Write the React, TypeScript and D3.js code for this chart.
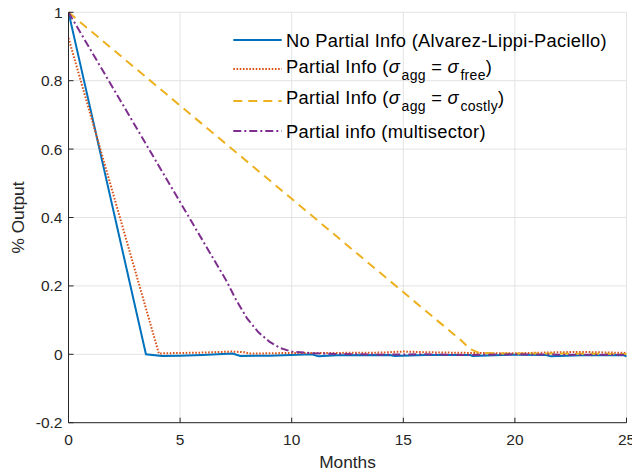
import React from "react";
import * as d3 from "d3";

const xTicks = [0, 5, 10, 15, 20, 25];
const yTicks = [-0.2, 0, 0.2, 0.4, 0.6, 0.8, 1];

const blueX = [0, 3.47, 4.2, 5, 6, 7.35, 7.7, 9, 10.9, 11.2, 12, 14.4, 14.6, 16, 18, 18.1, 20, 21.4, 21.6, 23, 24.85, 25];
const blueY = [1, 0, -0.005, -0.004, -0.002, 0.002, -0.005, -0.004, 0, -0.006, -0.003, -0.002, -0.005, -0.002, -0.002, -0.005, -0.001, -0.002, -0.006, -0.003, -0.002, -0.006];

const orangeX = [0, 4.05, 4.3, 6, 7.3, 7.9, 8.1, 10, 12, 14, 15, 16, 18, 20, 22, 23, 25];
const orangeY = [0.925, 0.002, 0.003, 0.005, 0.008, 0.006, 0.002, 0.004, 0.004, 0.005, 0.008, 0.006, 0.004, 0.003, 0.006, 0.007, 0.004];

const yellowX = [0, 17.6, 18.0, 18.4, 19, 20, 22, 25];
const yellowY = [1, 0.04, 0.015, 0.004, 0.003, 0.002, 0.002, 0.001];

const purpleX = [0, 7.1, 7.5, 8, 8.5, 9, 9.5, 10, 11, 12, 14, 16, 18, 20, 22, 25];
const purpleY = [1, 0.212, 0.16, 0.105, 0.065, 0.037, 0.018, 0.008, 0.003, 0.001, -0.001, 0, -0.002, 0, -0.001, -0.001];

const W = 632, H = 473;
const L = 68.5, R = 626.5, T = 12.3, B = 422.7;
const FONT = "'Liberation Sans', Arial, Helvetica, sans-serif";
const TXT = "#262626";

export default function App() {
  const x = d3.scaleLinear().domain([0, 25]).range([L, R]);
  const y = d3.scaleLinear().domain([-0.2, 1]).range([B, T]);
  const line = d3.line<[number, number]>().x(d => x(d[0])).y(d => y(d[1]));
  const mk = (xs: number[], ys: number[]) => xs.map((v, i) => [v, ys[i]] as [number, number]);

  const series = [
    { d: mk(blueX, blueY), color: "#0072BD", dash: "", w: 2 },
    { d: mk(orangeX, orangeY), color: "#D95319", dash: "1.6,1.6", w: 2 },
    { d: mk(yellowX, yellowY), color: "#EDB120", dash: "9,6", w: 2 },
    { d: mk(purpleX, purpleY), color: "#7E2F8E", dash: "8,3,2,3", w: 2 },
  ];

  const legendRows = [40, 69, 101, 131];
  const baselines = [46.5, 72.5, 103.5, 137.5];
  const lx1 = 233.3, lx2 = 281.7, tx = 286;
  const subFs = 14, subDy = 7.5;

  return (
    <svg width={W} height={H} style={{ position: "absolute", left: 0, top: 0, background: "#fff" }} fontFamily={FONT}>
      <rect x={0} y={0} width={W} height={H} fill="#fff" />
      <defs>
        <clipPath id="plot">
          <rect x={L} y={T - 2} width={R - L + 2} height={B - T + 2} />
        </clipPath>
      </defs>
      {xTicks.map(t => (
        <line key={"gx" + t} x1={x(t)} x2={x(t)} y1={T} y2={B} stroke="#e3e3e3" strokeWidth={1} />
      ))}
      {yTicks.map(t => (
        <line key={"gy" + t} x1={L} x2={R} y1={y(t)} y2={y(t)} stroke="#e3e3e3" strokeWidth={1} />
      ))}
      {series.map((s, i) => (
        <line key={"ll" + i} x1={lx1} x2={lx2} y1={legendRows[i]} y2={legendRows[i]} stroke={s.color} strokeWidth={s.w} strokeDasharray={s.dash || undefined} />
      ))}
      <g fontSize={18.3} fill="#000" letterSpacing={0.3}>
        <text x={tx} y={baselines[0]}>No Partial Info (Alvarez-Lippi-Paciello)</text>
        <text x={tx} y={baselines[1]}>
          Partial Info (<tspan fontStyle="italic">σ</tspan>
          <tspan fontSize={subFs} dy={subDy} dx={1.5}>agg</tspan>
          <tspan dy={-subDy}> = </tspan><tspan fontStyle="italic">σ</tspan>
          <tspan fontSize={subFs} dy={subDy} dx={1.5}>free</tspan>
          <tspan dy={-subDy}>)</tspan>
        </text>
        <text x={tx} y={baselines[2]}>
          Partial Info (<tspan fontStyle="italic">σ</tspan>
          <tspan fontSize={subFs} dy={subDy} dx={1.5}>agg</tspan>
          <tspan dy={-subDy}> = </tspan><tspan fontStyle="italic">σ</tspan>
          <tspan fontSize={subFs} dy={subDy} dx={1.5}>costly</tspan>
          <tspan dy={-subDy}>)</tspan>
        </text>
        <text x={tx} y={baselines[3]}>Partial info (multisector)</text>
      </g>
      <g clipPath="url(#plot)">
        {series.map((s, i) => (
          <path key={"s" + i} d={line(s.d) || ""} fill="none" stroke={s.color} strokeWidth={s.w} strokeDasharray={s.dash || undefined} />
        ))}
      </g>
      <line x1={L} x2={R} y1={B} y2={B} stroke={TXT} strokeWidth={1} />
      <line x1={L} x2={L} y1={T} y2={B} stroke={TXT} strokeWidth={1} />
      {xTicks.map(t => (
        <g key={"xt" + t}>
          <line x1={x(t)} x2={x(t)} y1={B} y2={B - 5} stroke={TXT} />
          <text x={x(t)} y={B + 22.5} textAnchor="middle" fontSize={15.5} fill={TXT}>{String(t)}</text>
        </g>
      ))}
      {yTicks.map(t => (
        <g key={"yt" + t}>
          <line x1={L} x2={L + 5} y1={y(t)} y2={y(t)} stroke={TXT} />
          <text x={L - 6} y={y(t) + 5.5} textAnchor="end" fontSize={15.5} fill={TXT}>{t === 0 ? "0" : String(Math.round(t * 10) / 10)}</text>
        </g>
      ))}
      <text x={(L + R) / 2} y={468.3} textAnchor="middle" fontSize={17.3} fill={TXT}>Months</text>
      <text transform={`translate(24,${(T + B) / 2}) rotate(-90)`} textAnchor="middle" fontSize={17.3} fill={TXT}>% Output</text>
    </svg>
  );
}
